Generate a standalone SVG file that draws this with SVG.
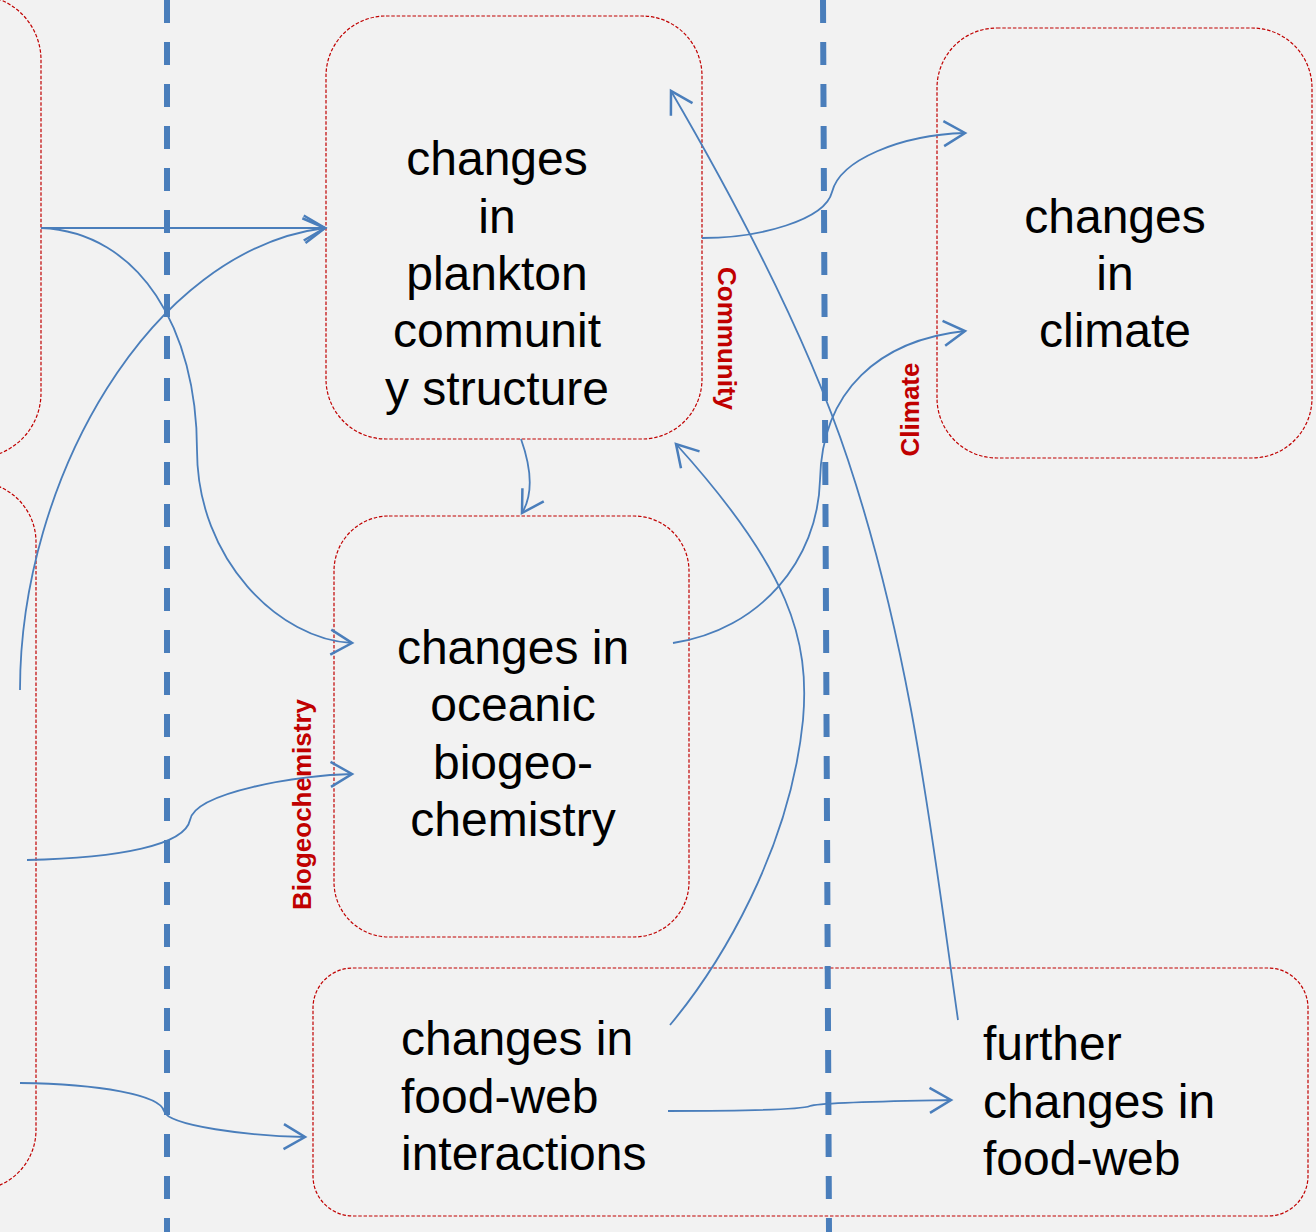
<svg xmlns="http://www.w3.org/2000/svg" width="1316" height="1232" viewBox="0 0 1316 1232">
<defs>
<style>
.box{fill:none;stroke:#c00000;stroke-width:1.2;stroke-dasharray:3.5 1.8}
.t{font-family:"Liberation Sans",Arial,sans-serif;font-size:48px;fill:#000}
.c{text-anchor:middle}
.lab{font-family:"Liberation Sans",Arial,sans-serif;font-size:26px;font-weight:bold;fill:#c00000;text-anchor:middle}
.lane{stroke:#4a7ebb;stroke-width:6;stroke-dasharray:23 19;fill:none}
.con{fill:none;stroke:#4a7ebb;stroke-width:1.8;marker-end:url(#ah)}
</style>
<marker id="ah" markerUnits="userSpaceOnUse" markerWidth="30" markerHeight="30" refX="0" refY="0" viewBox="-20 -12 22 24" orient="auto" overflow="visible">
<path d="M-17,-10 L0,0 L-17,10" fill="none" stroke="#4a7ebb" stroke-width="2"/>
</marker>
</defs>
<rect x="0" y="0" width="1316" height="1232" fill="#f2f2f2"/>
<g id="node-left-top"><rect class="box" x="-300" y="-5" width="341" height="463" rx="65" ry="65"/></g>
<g id="node-left-bottom"><rect class="box" x="-300" y="482" width="336" height="708" rx="60" ry="60"/></g>
<g id="node-plankton">
<rect class="box" x="326" y="16" width="376" height="423" rx="60" ry="60"/>
<text class="t c" x="497" y="175">changes</text>
<text class="t c" x="497" y="233">in</text>
<text class="t c" x="497" y="290">plankton</text>
<text class="t c" x="497" y="347">communit</text>
<text class="t c" x="497" y="405">y structure</text>
</g>
<g id="node-biogeo">
<rect class="box" x="334" y="516" width="355" height="421" rx="55" ry="55"/>
<text class="t c" x="513" y="664">changes in</text>
<text class="t c" x="513" y="721">oceanic</text>
<text class="t c" x="513" y="779">biogeo-</text>
<text class="t c" x="513" y="836">chemistry</text>
</g>
<g id="node-climate">
<rect class="box" x="937" y="28" width="375" height="430" rx="60" ry="60"/>
<text class="t c" x="1115" y="233">changes</text>
<text class="t c" x="1115" y="290">in</text>
<text class="t c" x="1115" y="347">climate</text>
</g>
<g id="node-foodweb">
<rect class="box" x="313" y="968" width="995" height="248" rx="40" ry="40"/>
<text class="t" x="401" y="1055">changes in</text>
<text class="t" x="401" y="1113">food-web</text>
<text class="t" x="401" y="1170">interactions</text>
</g>
<g id="node-further">
<text class="t" x="983" y="1060">further</text>
<text class="t" x="983" y="1118">changes in</text>
<text class="t" x="983" y="1175">food-web</text>
</g>
<g id="lanes">
<line class="lane" x1="167" y1="0" x2="167" y2="1232"/>
<line class="lane" x1="823" y1="0" x2="829" y2="1232"/>
</g>
<g id="labels">
<text class="lab" transform="translate(718,338.5) rotate(90)">Community</text>
<text class="lab" transform="translate(919,409.5) rotate(-90)">Climate</text>
<text class="lab" transform="translate(311,804.5) rotate(-90)">Biogeochemistry</text>
</g>
<g id="connectors">
<path class="con" d="M41,228 L325,228"/>
<path class="con" d="M41,228 C140,232 197,330 197,450 C197,560 280,640 352,643"/>
<path class="con" d="M20,690 C20,480 150,250 325,228"/>
<path class="con" d="M27,860 C120,858 185,845 190,820 C195,792 300,775 352,774"/>
<path class="con" d="M20,1083 C100,1084 160,1095 164,1111 C168,1126 250,1136 305,1137"/>
<path class="con" d="M521,439 C532,470 533,495 522,513"/>
<path class="con" d="M702,238 C760,238 825,220 832,192 C840,160 900,135 965,133"/>
<path class="con" d="M673,643 C760,630 818,560 820,480 C822,390 880,340 965,331"/>
<path class="con" d="M670,1025 C720,965 790,850 803,720 C810,640 790,570 676,444"/>
<path class="con" d="M668,1111 C740,1111 800,1110 810,1106 C820,1102 900,1101 951,1100"/>
<path class="con" d="M958,1020 C931,830 911,650 848,460 C808,340 741,211 671,91"/>
</g>
</svg>
